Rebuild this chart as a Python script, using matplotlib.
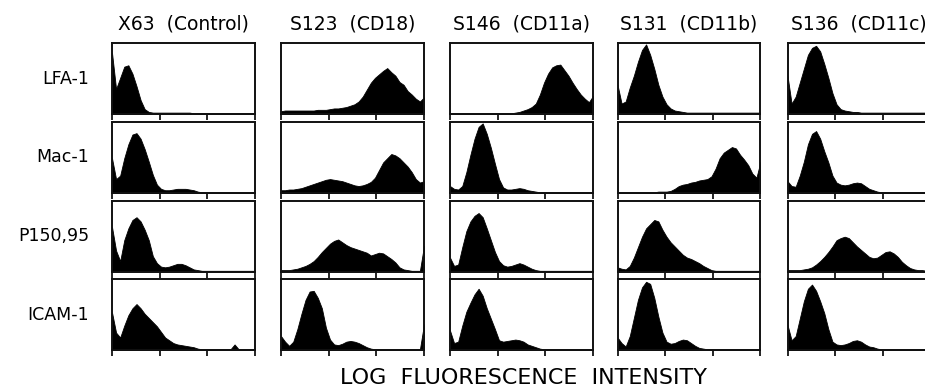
import numpy as np
import matplotlib
matplotlib.use("Agg")
import matplotlib.pyplot as plt

# column (antibody) and row (antigen) labels
col_labels = ["X63  (Control)", "S123  (CD18)", "S146  (CD11a)", "S131  (CD11b)", "S136  (CD11c)"]
row_labels = ["LFA-1", "Mac-1", "P150,95", "ICAM-1"]
x_label = "LOG  FLUORESCENCE  INTENSITY"

# histogram heights (fraction of panel height), 36 channels per panel
lfa_x63 = [0.88, 0.36, 0.52, 0.68, 0.70, 0.58, 0.40, 0.20, 0.07, 0.03, 0.02, 0.02, 0.02, 0.02, 0.02, 0.02, 0.02, 0.02,
           0.02, 0.02, 0.01, 0.01, 0.01, 0.01, 0.01, 0.01, 0.01, 0.01, 0.01, 0.01, 0.01, 0.01, 0.01, 0.01, 0.01, 0.01]
lfa_s123 = [0.04, 0.05, 0.05, 0.05, 0.05, 0.05, 0.05, 0.05, 0.05, 0.06, 0.06, 0.06, 0.07, 0.08, 0.08, 0.09, 0.10, 0.12,
            0.14, 0.18, 0.25, 0.35, 0.45, 0.52, 0.57, 0.62, 0.66, 0.60, 0.55, 0.46, 0.42, 0.33, 0.28, 0.22, 0.18, 0.24]
lfa_s146 = [0.01, 0.01, 0.01, 0.01, 0.01, 0.01, 0.01, 0.01, 0.01, 0.01, 0.01, 0.01, 0.01, 0.01, 0.01, 0.01, 0.02, 0.03,
            0.05, 0.07, 0.10, 0.15, 0.28, 0.45, 0.58, 0.67, 0.70, 0.71, 0.63, 0.55, 0.45, 0.36, 0.28, 0.22, 0.17, 0.26]
lfa_s131 = [0.42, 0.15, 0.18, 0.38, 0.55, 0.75, 0.92, 1.00, 0.85, 0.65, 0.42, 0.25, 0.14, 0.08, 0.05, 0.04, 0.03, 0.02,
            0.02, 0.02, 0.02, 0.02, 0.02, 0.02, 0.02, 0.02, 0.02, 0.02, 0.02, 0.02, 0.02, 0.02, 0.02, 0.02, 0.02, 0.02]
lfa_s136 = [0.55, 0.15, 0.25, 0.45, 0.65, 0.85, 0.95, 0.98, 0.90, 0.72, 0.52, 0.30, 0.14, 0.07, 0.05, 0.04, 0.03, 0.03,
            0.02, 0.02, 0.02, 0.02, 0.02, 0.02, 0.02, 0.02, 0.02, 0.02, 0.02, 0.02, 0.02, 0.02, 0.02, 0.02, 0.02, 0.02]

mac_x63 = [0.50, 0.20, 0.25, 0.50, 0.70, 0.84, 0.86, 0.78, 0.63, 0.45, 0.26, 0.12, 0.06, 0.04, 0.04, 0.05, 0.06, 0.06,
           0.06, 0.05, 0.04, 0.02, 0.01, 0.01, 0.01, 0.01, 0.01, 0.01, 0.01, 0.01, 0.01, 0.01, 0.01, 0.01, 0.01, 0.01]
mac_s123 = [0.04, 0.04, 0.05, 0.05, 0.06, 0.07, 0.09, 0.11, 0.13, 0.15, 0.17, 0.19, 0.20, 0.19, 0.18, 0.17, 0.15, 0.13,
            0.11, 0.10, 0.11, 0.13, 0.16, 0.22, 0.33, 0.44, 0.50, 0.56, 0.54, 0.50, 0.44, 0.38, 0.30, 0.20, 0.15, 0.17]
mac_s146 = [0.10, 0.06, 0.05, 0.10, 0.30, 0.55, 0.78, 0.95, 1.00, 0.85, 0.65, 0.42, 0.20, 0.08, 0.05, 0.05, 0.06, 0.07,
            0.06, 0.04, 0.03, 0.02, 0.01, 0.01, 0.01, 0.01, 0.01, 0.01, 0.01, 0.01, 0.01, 0.01, 0.01, 0.01, 0.01, 0.01]
mac_s131 = [0.01, 0.01, 0.01, 0.01, 0.01, 0.01, 0.01, 0.01, 0.01, 0.01, 0.02, 0.02, 0.02, 0.03, 0.06, 0.10, 0.12, 0.13,
            0.15, 0.16, 0.18, 0.19, 0.20, 0.24, 0.35, 0.50, 0.58, 0.62, 0.66, 0.64, 0.55, 0.48, 0.40, 0.28, 0.22, 0.45]
mac_s136 = [0.17, 0.10, 0.09, 0.25, 0.45, 0.70, 0.85, 0.89, 0.78, 0.60, 0.44, 0.25, 0.15, 0.12, 0.11, 0.12, 0.14, 0.15,
            0.14, 0.10, 0.06, 0.04, 0.02, 0.01, 0.01, 0.01, 0.01, 0.01, 0.01, 0.01, 0.01, 0.01, 0.01, 0.01, 0.01, 0.01]

p150_x63 = [0.64, 0.30, 0.15, 0.45, 0.62, 0.74, 0.78, 0.72, 0.60, 0.45, 0.22, 0.12, 0.07, 0.06, 0.07, 0.09, 0.11, 0.11,
            0.09, 0.06, 0.03, 0.02, 0.01, 0.01, 0.01, 0.01, 0.01, 0.01, 0.01, 0.01, 0.01, 0.01, 0.01, 0.01, 0.01, 0.01]
p150_s123 = [0.02, 0.02, 0.02, 0.03, 0.04, 0.06, 0.08, 0.11, 0.15, 0.21, 0.28, 0.34, 0.40, 0.44, 0.46, 0.42, 0.38, 0.35,
             0.33, 0.31, 0.29, 0.27, 0.23, 0.25, 0.27, 0.26, 0.22, 0.18, 0.13, 0.06, 0.03, 0.02, 0.01, 0.01, 0.01, 0.37]
p150_s146 = [0.20, 0.08, 0.10, 0.35, 0.58, 0.72, 0.80, 0.84, 0.78, 0.62, 0.45, 0.28, 0.15, 0.09, 0.07, 0.08, 0.10, 0.12,
             0.10, 0.07, 0.04, 0.02, 0.01, 0.01, 0.01, 0.01, 0.01, 0.01, 0.01, 0.01, 0.01, 0.01, 0.01, 0.01, 0.01, 0.01]
p150_s131 = [0.06, 0.04, 0.03, 0.08, 0.20, 0.35, 0.50, 0.62, 0.68, 0.74, 0.72, 0.60, 0.50, 0.42, 0.36, 0.30, 0.24, 0.20,
             0.18, 0.15, 0.12, 0.08, 0.05, 0.02, 0.01, 0.01, 0.01, 0.01, 0.01, 0.01, 0.01, 0.01, 0.01, 0.01, 0.01, 0.01]
p150_s136 = [0.02, 0.02, 0.02, 0.02, 0.03, 0.04, 0.06, 0.10, 0.15, 0.21, 0.28, 0.36, 0.45, 0.48, 0.50, 0.48, 0.42, 0.36,
             0.31, 0.26, 0.21, 0.19, 0.20, 0.24, 0.28, 0.29, 0.26, 0.21, 0.14, 0.09, 0.05, 0.03, 0.02, 0.02, 0.01, 0.01]

icam_x63 = [0.54, 0.25, 0.18, 0.35, 0.50, 0.60, 0.66, 0.60, 0.52, 0.46, 0.40, 0.34, 0.26, 0.18, 0.14, 0.10, 0.08, 0.07,
            0.06, 0.05, 0.04, 0.02, 0.01, 0.01, 0.01, 0.01, 0.01, 0.01, 0.01, 0.01, 0.08, 0.01, 0.01, 0.01, 0.01, 0.01]
icam_s123 = [0.20, 0.12, 0.06, 0.12, 0.30, 0.52, 0.72, 0.84, 0.85, 0.75, 0.60, 0.32, 0.15, 0.08, 0.07, 0.09, 0.12, 0.13,
             0.12, 0.10, 0.07, 0.04, 0.02, 0.01, 0.01, 0.01, 0.01, 0.01, 0.01, 0.01, 0.01, 0.01, 0.01, 0.01, 0.01, 0.37]
icam_s146 = [0.28, 0.10, 0.12, 0.35, 0.55, 0.68, 0.80, 0.88, 0.78, 0.60, 0.45, 0.30, 0.14, 0.12, 0.13, 0.14, 0.15, 0.14,
             0.12, 0.08, 0.06, 0.04, 0.02, 0.01, 0.01, 0.01, 0.01, 0.01, 0.01, 0.01, 0.01, 0.01, 0.01, 0.01, 0.01, 0.01]
icam_s131 = [0.18, 0.10, 0.05, 0.20, 0.46, 0.72, 0.90, 0.98, 0.95, 0.75, 0.48, 0.25, 0.12, 0.09, 0.10, 0.13, 0.15, 0.14,
             0.10, 0.06, 0.03, 0.02, 0.01, 0.01, 0.01, 0.01, 0.01, 0.01, 0.01, 0.01, 0.01, 0.01, 0.01, 0.01, 0.01, 0.01]
icam_s136 = [0.36, 0.14, 0.20, 0.45, 0.70, 0.88, 0.94, 0.85, 0.70, 0.53, 0.30, 0.12, 0.08, 0.07, 0.08, 0.10, 0.13, 0.14,
             0.12, 0.08, 0.05, 0.04, 0.02, 0.01, 0.01, 0.01, 0.01, 0.01, 0.01, 0.01, 0.01, 0.01, 0.01, 0.01, 0.01, 0.01]

panels = [
    [lfa_x63, lfa_s123, lfa_s146, lfa_s131, lfa_s136],
    [mac_x63, mac_s123, mac_s146, mac_s131, mac_s136],
    [p150_x63, p150_s123, p150_s146, p150_s131, p150_s136],
    [icam_x63, icam_s123, icam_s146, icam_s131, icam_s136],
]

W, H = 925, 390
fig = plt.figure(figsize=(W / 100, H / 100), dpi=100)

# panel positions in pixels
col_left = [112, 281, 450, 617.5, 787.5]
row_top = [43, 122, 200.5, 279]
pw, ph = 143, 71

nbins = 36
for r in range(4):
    for c in range(5):
        left = col_left[c] / W
        bottom = 1 - (row_top[r] + ph) / H
        ax = fig.add_axes([left, bottom, pw / W, ph / H])
        y = np.array(panels[r][c])
        x = np.linspace(0, nbins, len(y))
        ax.fill_between(x, 0, y, color="black", linewidth=0.6, edgecolor="black")
        ax.set_xlim(0, nbins)
        ax.set_ylim(0, 1.02)
        ax.set_xticks([0, 12, 24, 36])
        ax.set_xticklabels([])
        ax.set_yticks([])
        ax.tick_params(axis="x", direction="out", length=4, width=1.2, color="black")
        for s in ax.spines.values():
            s.set_linewidth(1.4)
            s.set_color("#111111")
        if r == 0:
            ax.text(0.5, 1.14, col_labels[c], transform=ax.transAxes, ha="center", va="bottom",
                    fontsize=13.5, color="black")
        if c == 0:
            ax.text(-0.16, 0.5, row_labels[r], transform=ax.transAxes, ha="right", va="center",
                    fontsize=12.5, color="black")

fig.text(524 / W, 1 - 378 / H, x_label, ha="center", va="center", fontsize=16, color="black")

fig.savefig("out.png", dpi=100, facecolor="white")
